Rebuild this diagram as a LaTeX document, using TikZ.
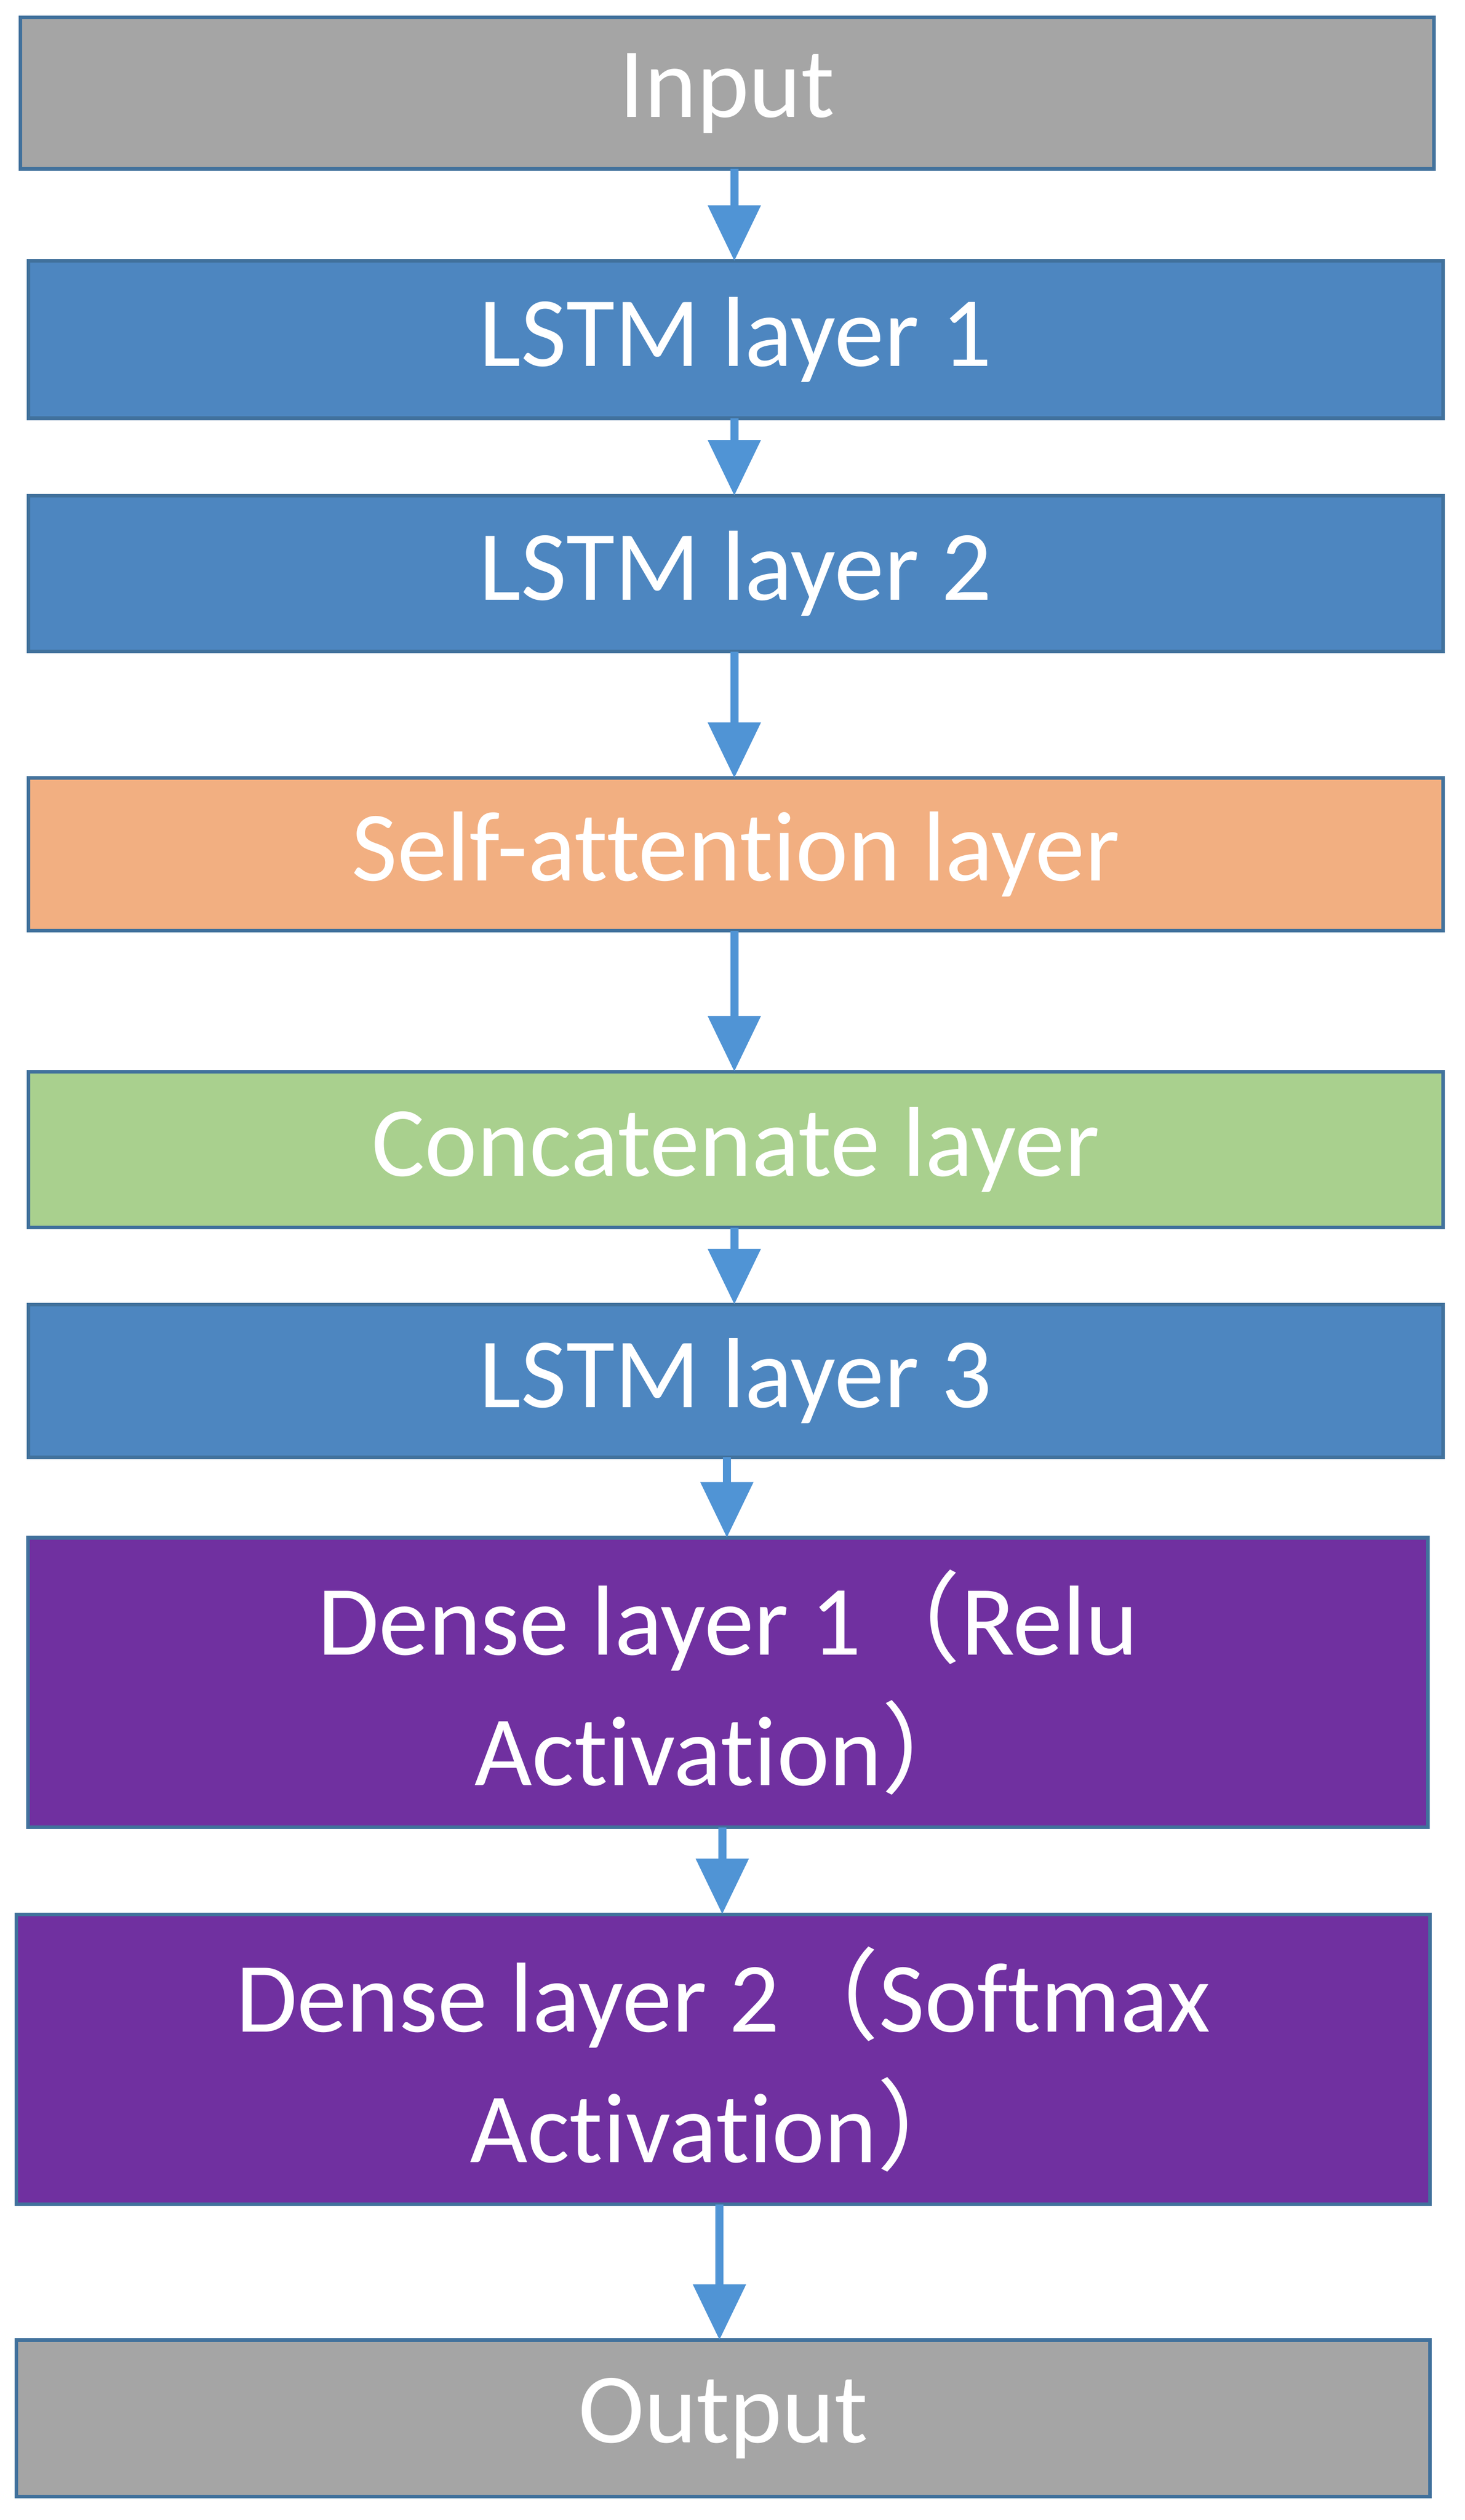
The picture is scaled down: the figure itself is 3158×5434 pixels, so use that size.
\documentclass[tikz,border=0pt]{standalone}
\usepackage{fontspec}
\setmainfont{Carlito}[Ligatures=NoCommon]
\newfontfamily\cjk{Noto Sans CJK SC}
\usetikzlibrary{arrows.meta,backgrounds}
\definecolor{grayc}{HTML}{A5A5A5}
\definecolor{bluec}{HTML}{4D86C0}
\definecolor{orangec}{HTML}{F2AF81}
\definecolor{greenc}{HTML}{A9D08E}
\definecolor{purplec}{HTML}{7030A0}
\definecolor{bordc}{HTML}{41719C}
\definecolor{arrowc}{HTML}{5094D5}
\definecolor{shadc}{HTML}{D2E2F4}
\begin{document}
\begin{tikzpicture}[x=0.01cm,y=-0.01cm,
  box/.style={draw=bordc, line width=2.2pt, text=white, align=center, inner sep=0pt, outer sep=0pt,
    font=\fontsize{61}{80}\selectfont},
  flow/.style={draw=arrowc, line width=5pt, -{Triangle[width=1.1cm,length=1.2cm]}},
  shadowbar/.style={top color=shadc, bottom color=white, draw=none}]
\useasboundingbox (0,0) rectangle (3158,5434);
\fill[white] (0,0) rectangle (3158,5434);
\node[box, fill=grayc, minimum width=30.45cm, minimum height=3.26cm] (in) at (1567.5,201) {Input};
\node[box, fill=bluec, minimum width=30.48cm, minimum height=3.39cm] (l1) at (1586,732.5) {LSTM layer 1};
\node[box, fill=bluec, minimum width=30.48cm, minimum height=3.36cm] (l2) at (1586,1237) {LSTM layer 2};
\node[box, fill=orangec, minimum width=30.48cm, minimum height=3.29cm] (sa) at (1586,1842.5) {Self-attention layer};
\node[box, fill=greenc, minimum width=30.48cm, minimum height=3.36cm] (cc) at (1586,2479) {Concatenate layer};
\node[box, fill=bluec, minimum width=30.48cm, minimum height=3.29cm] (l3) at (1586,2977.5) {LSTM layer 3};
\node[box, fill=purplec, minimum width=30.16cm, minimum height=6.24cm] (d1) at (1569,3628)
  {Dense layer 1{\cjk （}Relu\\Activation{\cjk ）}};
\node[box, fill=purplec, minimum width=30.46cm, minimum height=6.25cm] (d2) at (1559,4440.5)
  {Dense layer 2{\cjk （}Softmax\\Activation{\cjk ）}};
\node[box, fill=grayc, minimum width=30.46cm, minimum height=3.37cm] (out) at (1559,5214.5) {Output};
\begin{scope}[on background layer]
\foreach \n in {in,l1,l2,sa,cc,l3,d1,d2,out}
  \shade[shadowbar] (\n.south west) rectangle ([yshift=-0.55cm]\n.south east);
\end{scope}
\coordinate (ax1) at (1583,0);
\coordinate (ax2) at (1567,0);
\coordinate (ax3) at (1557,0);
\coordinate (ax4) at (1551,0);
\draw[flow] (in.south -| ax1) -- (l1.north -| ax1);
\draw[flow] (l1.south -| ax1) -- (l2.north -| ax1);
\draw[flow] (l2.south -| ax1) -- (sa.north -| ax1);
\draw[flow] (sa.south -| ax1) -- (cc.north -| ax1);
\draw[flow] (cc.south -| ax1) -- (l3.north -| ax1);
\draw[flow] (l3.south -| ax2) -- (d1.north -| ax2);
\draw[flow] (d1.south -| ax3) -- (d2.north -| ax3);
\draw[flow] (d2.south -| ax4) -- (out.north -| ax4);
\end{tikzpicture}
\end{document}
